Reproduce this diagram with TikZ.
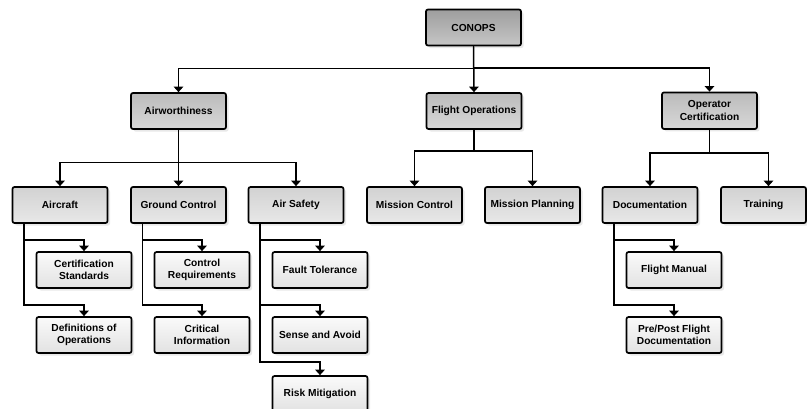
\documentclass[tikz,border=0pt]{standalone}
\usepackage{fontspec}
\setmainfont{Liberation Sans}
\usetikzlibrary{arrows.meta,calc,shadows}
\definecolor{lzt}{HTML}{9E9E9E}\definecolor{lzb}{HTML}{C6C6C6}
\definecolor{lot}{HTML}{BBBBBB}\definecolor{lob}{HTML}{D8D8D8}
\definecolor{ltt}{HTML}{D2D2D2}\definecolor{ltb}{HTML}{E8E8E8}
\definecolor{lht}{HTML}{FAFAFA}\definecolor{lhb}{HTML}{E2E2E2}
\tikzset{
  box/.style={draw=black, line width=1.7pt, rounded corners=2pt, minimum width=95pt, minimum height=36pt,
    align=center, font=\fontsize{10.2}{12.5}\selectfont\bfseries, inner sep=1pt,
    drop shadow={opacity=0.18, shadow xshift=2.5pt, shadow yshift=-2.5pt}},
  lzero/.style={box, top color=lzt, bottom color=lzb},
  lone/.style={box, top color=lot, bottom color=lob},
  ltwo/.style={box, top color=ltt, bottom color=ltb},
  lthree/.style={box, top color=lht, bottom color=lhb},
  arr/.style={line width=1.5pt, -{Triangle[width=9.5pt,length=5.5pt]}},
}
\begin{document}
\begin{tikzpicture}[x=1pt,y=-1pt]
\useasboundingbox[fill=white] (0,0) rectangle (807,408);
% level 0
\node[lzero] (CO) at (473.5,27.5) {CONOPS};
% level 1
\node[lone] (AW) at (178.5,111) {Airworthiness};
\node[lone] (FO) at (474,111) {Flight Operations};
\node[lone, minimum height=36.5pt] (OC) at (709.5,110.7) {Operator\\Certification};
% level 2
\node[ltwo] (AC) at (60,205) {Aircraft};
\node[ltwo] (GC) at (178.5,205) {Ground Control};
\node[ltwo] (AS) at (296,205) {Air Safety};
\node[ltwo] (MC) at (414.5,205) {Mission Control};
\node[ltwo] (MP) at (532.5,205) {Mission Planning};
\node[ltwo] (DO) at (650,205) {Documentation};
\node[ltwo, minimum width=85pt] (TR) at (763.5,205) {Training};
% level 3
\node[lthree] (CS) at (84,270) {Certification\\Standards};
\node[lthree] (DF) at (84,335) {Definitions of\\Operations};
\node[lthree] (CR) at (202,270) {Control\\Requirements};
\node[lthree] (CI) at (202,335) {Critical\\Information};
\node[lthree] (FT) at (320,270) {Fault Tolerance};
\node[lthree] (SA) at (320,335) {Sense and Avoid};
\node[lthree] (RM) at (320,394) {Risk Mitigation};
\node[lthree] (FM) at (674,270) {Flight Manual};
\node[lthree] (PP) at (674,335) {Pre/Post Flight\\Documentation};
% connectors level 0 -> 1
\draw[arr] (CO.south) -- (FO.north);
\draw[arr] (CO.south) |- ($(AW.north)+(0,-23.5)$) -- (AW.north);
\draw[arr] (CO.south) |- ($(OC.north)+(0,-23.5)$) -- (OC.north);
% level 1 -> 2
\draw[arr] (AW.south) -- (GC.north);
\draw[arr] (AW.south) |- ($(AC.north)+(0,-23.5)$) -- (AC.north);
\draw[arr] (AW.south) |- ($(AS.north)+(0,-23.5)$) -- (AS.north);
\draw[arr] (FO.south) |- ($(MC.north)+(0,-35)$) -- (MC.north);
\draw[arr] (FO.south) |- ($(MP.north)+(0,-35)$) -- (MP.north);
\draw[arr] (OC.south) |- ($(DO.north)+(0,-33)$) -- (DO.north);
\draw[arr] (OC.south) |- ($(TR.north)+(5,-33)$) -- ($(TR.north)+(5,0)$);
% level 2 -> 3
\coordinate (acs) at ($(AC.south west)+(12.5,0)$);
\draw[arr] (acs) |- ($(CS.north)+(0,-11)$) -- (CS.north);
\draw[arr] (acs) |- ($(DF.north)+(0,-11)$) -- (DF.north);
\coordinate (gcs) at ($(GC.south west)+(12.5,0)$);
\draw[arr] (gcs) |- ($(CR.north)+(0,-11)$) -- (CR.north);
\draw[arr] (gcs) |- ($(CI.north)+(0,-11)$) -- (CI.north);
\coordinate (ass) at ($(AS.south west)+(12.5,0)$);
\draw[arr] (ass) |- ($(FT.north)+(0,-11)$) -- (FT.north);
\draw[arr] (ass) |- ($(SA.north)+(0,-11)$) -- (SA.north);
\draw[arr] (ass) |- ($(RM.north)+(0,-13)$) -- (RM.north);
\coordinate (dos) at ($(DO.south west)+(12.5,0)$);
\draw[arr] (dos) |- ($(FM.north)+(0,-11)$) -- (FM.north);
\draw[arr] (dos) |- ($(PP.north)+(0,-11)$) -- (PP.north);
\end{tikzpicture}
\end{document}
